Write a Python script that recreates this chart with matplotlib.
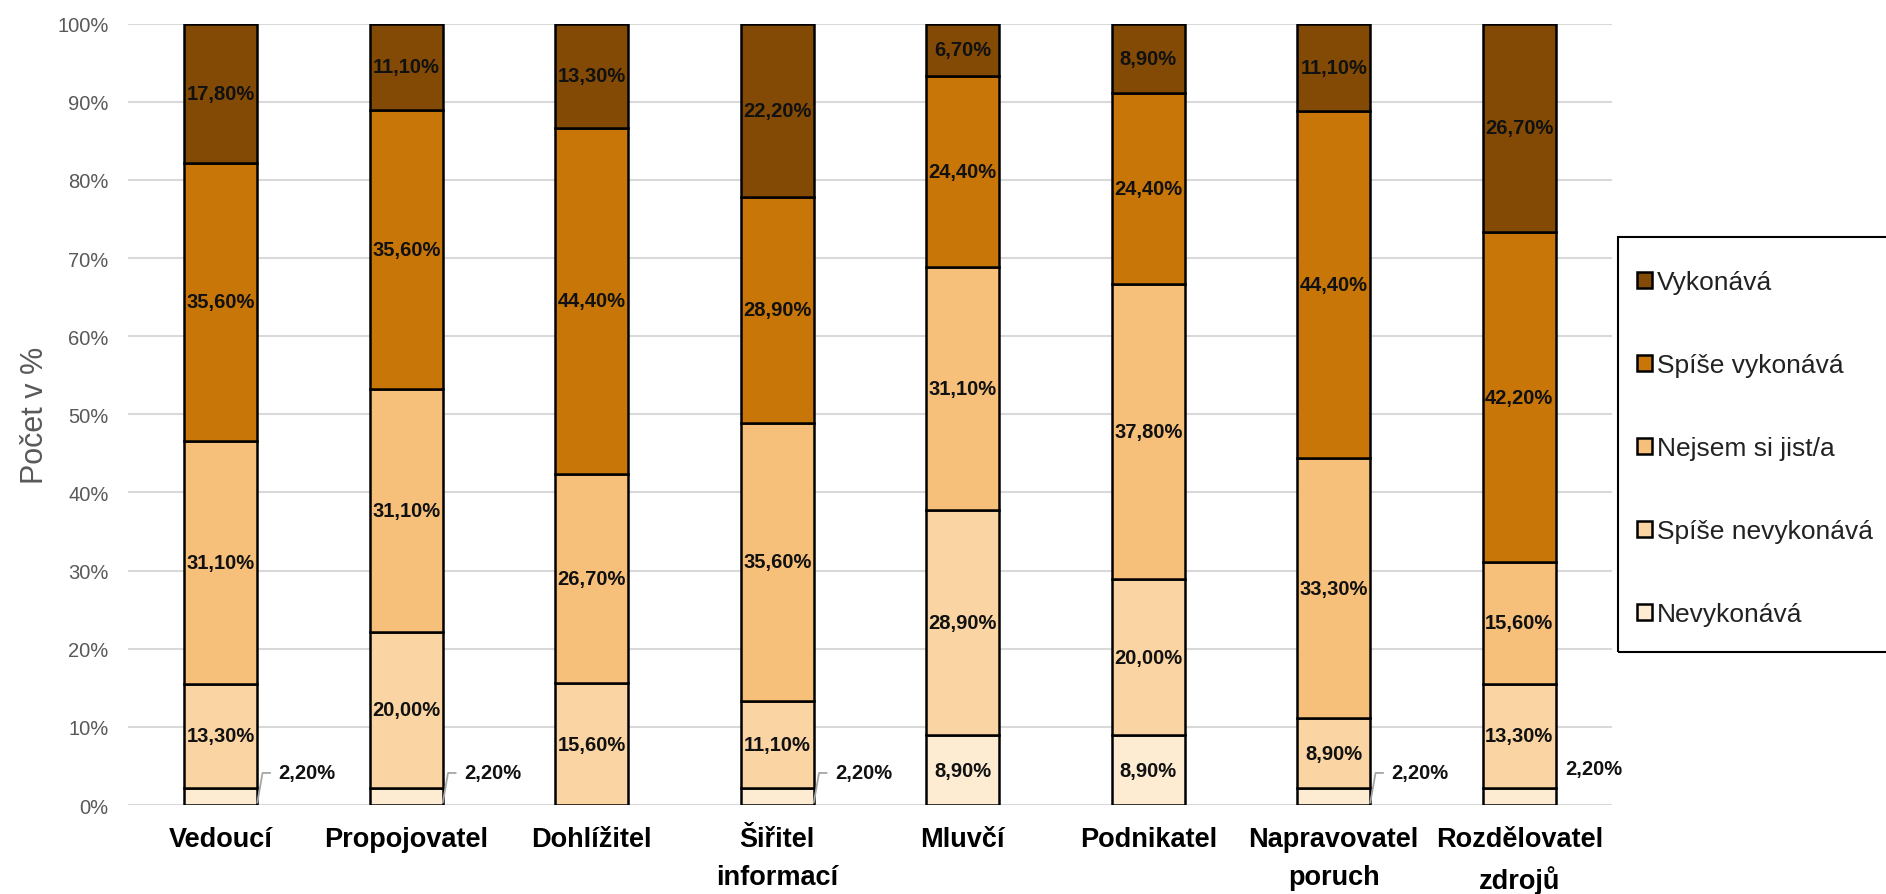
import matplotlib
matplotlib.use('Agg')
import matplotlib.pyplot as plt
from matplotlib.patches import Rectangle
from matplotlib.ticker import PercentFormatter
import numpy as np

plt.rcParams['font.family'] = ['Liberation Sans', 'DejaVu Sans']

categories = ['Vedoucí', 'Propojovatel', 'Dohlížitel', 'Šiřitel\ninformací', 'Mluvčí',
              'Podnikatel', 'Napravovatel\nporuch', 'Rozdělovatel\nzdrojů']
series_names = ['Nevykonává', 'Spíše nevykonává', 'Nejsem si jist/a', 'Spíše vykonává', 'Vykonává']

nevykonava = [2.2, 2.2, 0.0, 2.2, 8.9, 8.9, 2.2, 2.2]
spise_nevykonava = [13.3, 20.0, 15.6, 11.1, 28.9, 20.0, 8.9, 13.3]
nejsem = [31.1, 31.1, 26.7, 35.6, 31.1, 37.8, 33.3, 15.6]
spise_vykonava = [35.6, 35.6, 44.4, 28.9, 24.4, 24.4, 44.4, 42.2]
vykonava = [17.8, 11.1, 13.3, 22.2, 6.7, 8.9, 11.1, 26.7]

colors = ['#FDEBD2', '#FAD5A3', '#F7C07A', '#C97608', '#824A05']

# small values go outside the bar, with a leader line (except the last bar)
outside_min = 5.0

W, H = 1886, 895
fig = plt.figure(figsize=(W / 100, H / 100), dpi=100)
ax = fig.add_axes([128 / W, 1 - 806 / H, 1484 / W, (806 - 24.6) / H])

x = np.arange(len(categories))
width = 0.394
bottom = np.zeros(len(categories))
data = [nevykonava, spise_nevykonava, nejsem, spise_vykonava, vykonava]

for name, vals, col in zip(series_names, data, colors):
    vals = np.array(vals)
    ax.bar(x, vals, width, bottom=bottom, color=col, edgecolor='black', linewidth=1.8,
           label=name, zorder=3)
    for i, v in enumerate(vals):
        if v <= 0:
            continue
        lbl = ('%.2f%%' % v).replace('.', ',')
        yc = bottom[i] + v / 2
        if v >= outside_min:
            ax.text(x[i], yc, lbl, ha='center', va='center', fontsize=14.5,
                    fontweight='bold', color='#111111', zorder=4)
        elif i == len(categories) - 1:
            ax.text(x[i] + width / 2 + 0.05, yc + 3.6, lbl, ha='left', va='center',
                    fontsize=14.5, fontweight='bold', color='#111111', zorder=4)
        else:
            ax.annotate(lbl, xy=(x[i] + width / 2, yc - 0.8), xytext=(x[i] + width / 2 + 0.115, yc + 3.0),
                        ha='left', va='center', fontsize=14.5, fontweight='bold', color='#111111',
                        zorder=4,
                        arrowprops=dict(arrowstyle='-', color='#A6A6A6', lw=1.3,
                                        relpos=(0, 0.5), shrinkA=4, shrinkB=0,
                                        connectionstyle='angle,angleA=0,angleB=80,rad=0'))
    bottom += vals

ax.set_xlim(-0.5, len(categories) - 0.5)
ax.set_ylim(0, 100)
ax.set_yticks(np.arange(0, 101, 10))
ax.yaxis.set_major_formatter(PercentFormatter(decimals=0))
ax.grid(axis='y', color='#D9D9D9', linewidth=1.5, zorder=0)
ax.set_axisbelow(True)
for s in ax.spines.values():
    s.set_visible(False)
ax.tick_params(axis='both', length=0)
ax.tick_params(axis='y', labelsize=14.5, labelcolor='#595959', pad=14)
ax.set_xticks(x)
ax.set_xticklabels(categories, fontsize=19.5, fontweight='bold', color='black',
                   linespacing=1.6)
ax.tick_params(axis='x', pad=15)
fig.text(35 / W, 1 - 415 / H, 'Počet v %', rotation=90, ha='center', va='center',
         fontsize=22, color='#595959')

# legend: frame drawn separately so the inner padding can match
fig.add_artist(Rectangle((1618 / W, 1 - 653 / H), (W + 20 - 1618) / W, (653 - 238) / H,
                         transform=fig.transFigure, facecolor='none', edgecolor='black',
                         linewidth=1.5))
handles, labels = ax.get_legend_handles_labels()
leg = fig.legend(handles[::-1], labels[::-1], loc='upper left',
                 bbox_to_anchor=(1637 / W, 1 - 271 / H), fontsize=19,
                 frameon=False, labelspacing=2.24,
                 handlelength=0.55, handleheight=0.55, handletextpad=0.2,
                 borderpad=0, borderaxespad=0)
for t in leg.get_texts():
    t.set_color('#222222')

fig.savefig('out.png', dpi=100)
